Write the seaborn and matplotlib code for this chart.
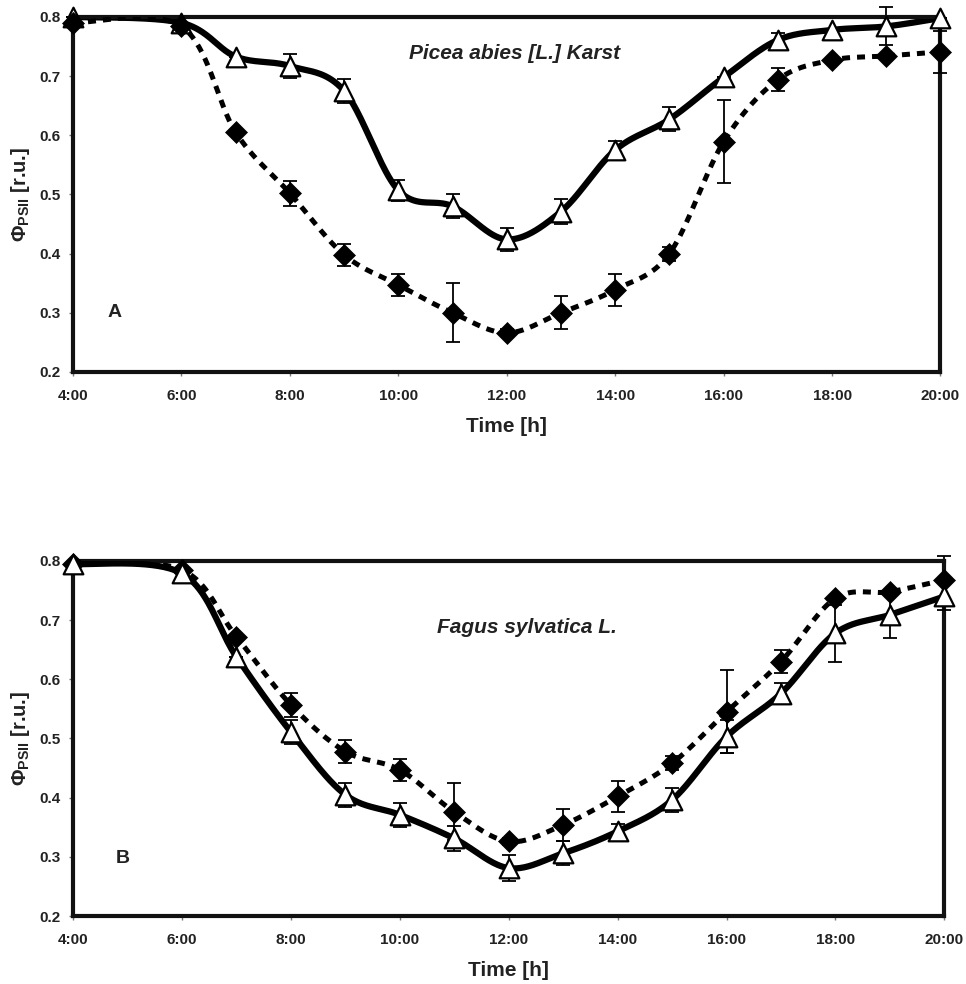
import numpy as np
import pandas as pd
import matplotlib
matplotlib.use("Agg")
import matplotlib.pyplot as plt
import seaborn as sns

sns.set_style("white")
plt.rcParams['font.family'] = ['Liberation Sans', 'DejaVu Sans']
plt.rcParams['font.weight'] = 'bold'
plt.rcParams['mathtext.fontset'] = 'custom'
plt.rcParams['mathtext.rm'] = 'Liberation Sans:bold'
plt.rcParams['mathtext.bf'] = 'Liberation Sans:bold'

# hours of measurement
hours = [4, 6, 7, 8, 9, 10, 11, 12, 13, 14, 15, 16, 17, 18, 19, 20]
tick_hours = [4, 6, 8, 10, 12, 14, 16, 18, 20]
tick_labels = ['4:00', '6:00', '8:00', '10:00', '12:00', '14:00', '16:00', '18:00', '20:00']

# Picea abies (panel A)
picea_tri = [0.800, 0.790, 0.733, 0.717, 0.675, 0.507, 0.480, 0.424, 0.471, 0.575, 0.627, 0.698, 0.761, 0.778, 0.784, 0.798]
picea_tri_err = [0.0, 0.0, 0.0, 0.02, 0.02, 0.018, 0.02, 0.02, 0.021, 0.015, 0.02, 0.0, 0.012, 0.0, 0.032, 0.0]
picea_dia = [0.790, 0.784, 0.605, 0.502, 0.398, 0.347, 0.300, 0.266, 0.300, 0.339, 0.400, 0.589, 0.694, 0.727, 0.734, 0.741]
picea_dia_err = [0.0, 0.0, 0.0, 0.021, 0.019, 0.019, 0.05, 0.006, 0.028, 0.027, 0.012, 0.07, 0.02, 0.0, 0.0, 0.036]

# Fagus sylvatica (panel B)
fagus_tri = [0.795, 0.779, 0.638, 0.511, 0.405, 0.371, 0.331, 0.281, 0.306, 0.343, 0.396, 0.503, 0.576, 0.678, 0.709, 0.740]
fagus_tri_err = [0.0, 0.0, 0.0, 0.02, 0.02, 0.02, 0.021, 0.022, 0.02, 0.013, 0.02, 0.028, 0.017, 0.048, 0.04, 0.023]
fagus_dia = [0.795, 0.785, 0.672, 0.557, 0.478, 0.447, 0.376, 0.326, 0.354, 0.402, 0.458, 0.545, 0.630, 0.737, 0.748, 0.768]
fagus_dia_err = [0.0, 0.0, 0.0, 0.02, 0.019, 0.019, 0.048, 0.006, 0.027, 0.026, 0.012, 0.07, 0.02, 0.0, 0.0, 0.04]


def smooth_curve(x, y, n=40):
    # Excel-like smoothed line (Catmull-Rom as cubic Bezier)
    p = np.column_stack([x, y]).astype(float)
    p = np.vstack([p[0], p, p[-1]])
    t = np.linspace(0, 1, n)[:, None]
    out = []
    for i in range(1, len(p) - 2):
        p0, p1, p2, p3 = p[i - 1], p[i], p[i + 1], p[i + 2]
        c1 = p1 + (p2 - p0) / 6
        c2 = p2 - (p3 - p1) / 6
        seg = ((1 - t) ** 3) * p1 + 3 * ((1 - t) ** 2) * t * c1 + 3 * (1 - t) * t ** 2 * c2 + t ** 3 * p2
        out.append(seg if i == 1 else seg[1:])
    out = np.vstack(out)
    return out[:, 0], out[:, 1]


def draw_panel(ax, tri, tri_err, dia, dia_err, title, title_xy, letter, letter_xy, dia_on_top):
    z_dia = 4 if dia_on_top else 2
    z_tri = 2 if dia_on_top else 4

    sx, sy = smooth_curve(hours, tri)
    sns.lineplot(x=sx, y=sy, sort=False, estimator=None, ax=ax, color='black',
                 lw=4.5, solid_capstyle='round', zorder=z_tri)
    dx, dy = smooth_curve(hours, dia)
    sns.lineplot(x=dx, y=dy, sort=False, estimator=None, ax=ax, color='black',
                 lw=3.6, ls=(0, (1.6, 1.4)), dash_capstyle='butt', zorder=z_dia)

    ax.errorbar(hours, tri, yerr=tri_err, fmt='none', ecolor='black', elinewidth=1.3,
                capsize=4.7, capthick=1.3, zorder=z_tri + 0.5, clip_on=False)
    ax.errorbar(hours, dia, yerr=dia_err, fmt='none', ecolor='black', elinewidth=1.3,
                capsize=4.7, capthick=1.3, zorder=z_dia + 0.5, clip_on=False)

    sns.scatterplot(x=hours, y=dia, ax=ax, marker='D', s=125, color='black',
                    edgecolor='black', linewidth=0.5, zorder=z_dia + 1, clip_on=False)
    sns.scatterplot(x=hours, y=tri, ax=ax, marker='^', s=200, color='white',
                    edgecolor='black', linewidth=1.6, zorder=z_tri + 1, clip_on=False)

    ax.set_xlim(4, 20)
    ax.set_ylim(0.2, 0.8)
    ax.set_xticks(tick_hours)
    ax.set_xticklabels(tick_labels)
    ax.set_yticks([0.2, 0.3, 0.4, 0.5, 0.6, 0.7, 0.8])
    ax.set_yticklabels(['0.2', '0.3', '0.4', '0.5', '0.6', '0.7', '0.8'])
    ax.tick_params(axis='both', which='major', length=3, width=1, color='#777777',
                   labelsize=11, direction='out', bottom=True, left=True)
    ax.tick_params(axis='x', pad=9)
    ax.tick_params(axis='y', pad=6)
    for lab in ax.get_xticklabels() + ax.get_yticklabels():
        lab.set_fontweight('bold')
        lab.set_color('#222222')
    for sp in ax.spines.values():
        sp.set_visible(True)
        sp.set_linewidth(3.0)
        sp.set_color('#111111')
    ax.set_xlabel('Time [h]', fontsize=15, fontweight='bold', labelpad=10, color='#222222')
    ax.set_ylabel(r'Φ$_{\mathbf{PSII}}$ [r.u.]', fontsize=14.5, fontweight='bold', labelpad=5, color='#222222')
    ax.text(title_xy[0], title_xy[1], title, fontsize=15, fontweight='bold', fontstyle='italic',
            ha='center', va='center', color='#222222')
    ax.text(letter_xy[0], letter_xy[1], letter, fontsize=14, fontweight='bold',
            ha='center', va='center', color='#222222')


fig = plt.figure(figsize=(9.66, 9.84), dpi=100)
ax1 = fig.add_axes([0.0756, 0.622, 0.898, 0.3608])
ax2 = fig.add_axes([0.0756, 0.0691, 0.902, 0.3608])

draw_panel(ax1, picea_tri, picea_tri_err, picea_dia, picea_dia_err,
           'Picea abies [L.] Karst', (12.15, 0.7375), 'A', (4.77, 0.30), True)
draw_panel(ax2, fagus_tri, fagus_tri_err, fagus_dia, fagus_dia_err,
           'Fagus sylvatica L.', (12.33, 0.687), 'B', (4.92, 0.298), False)

fig.savefig('out.png', dpi=100, facecolor='white')
